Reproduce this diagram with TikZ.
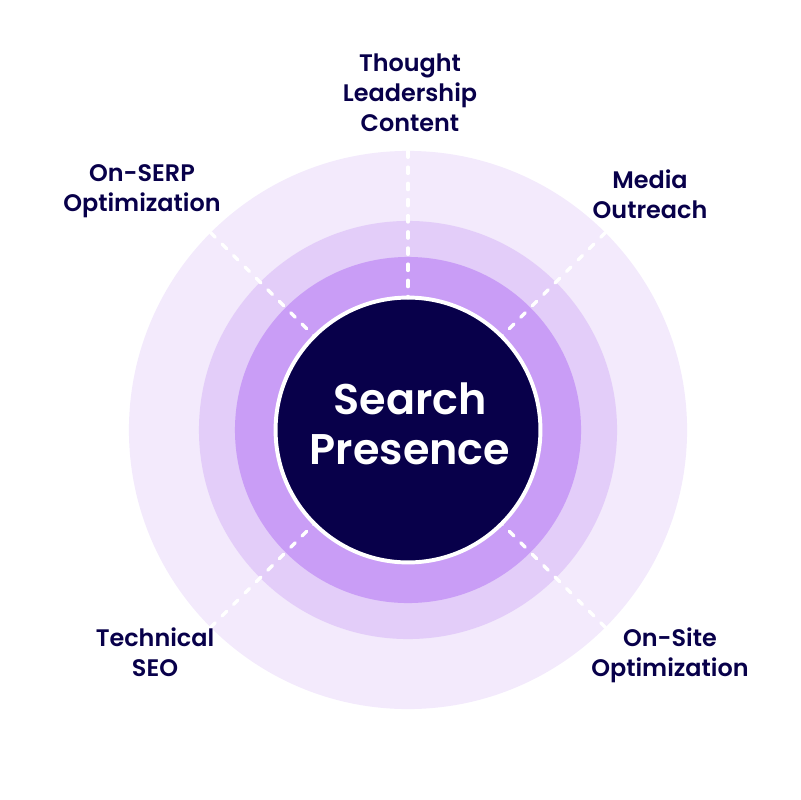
\documentclass[tikz,border=0pt]{standalone}
\usepackage{fontspec}
\setmainfont{Poppins}[BoldFont={Poppins SemiBold}]
\usetikzlibrary{positioning}
\definecolor{ringA}{HTML}{F3EAFC}
\definecolor{ringB}{HTML}{E3CDF9}
\definecolor{ringC}{HTML}{C99DF6}
\definecolor{navy}{HTML}{08004A}
\tikzset{
  ring/.style={circle,inner sep=0pt,outer sep=0pt},
  tag/.style={align=center,text=navy,font=\fontsize{17}{21.3}\selectfont\bfseries},
  spoke/.style={draw=white,line width=2.4pt,line cap=round,dash pattern=on 4.5pt off 7pt}
}
\begin{document}
\begin{tikzpicture}[x=0.025cm,y=-0.025cm]
\useasboundingbox (0,0) rectangle (800,800);
\node[ring,fill=ringA,minimum size=13.95cm] (halo) at (408,430) {};
\node[ring,fill=ringB,minimum size=10.45cm] (mid) at (408,430) {};
\node[ring,fill=ringC,minimum size=8.65cm] (inner) at (408,430) {};
\node[ring,fill=navy,draw=white,line width=2.8pt,minimum size=6.62cm] (core) at (408,430) {};
\node[align=center,text=white,font=\fontsize{30.5}{35.6}\selectfont\bfseries] (title) at (410,424) {Search\\Presence};
\foreach \a in {90,45,135,225,315} \draw[spoke] (halo.\a)--(core.\a);
\node[tag] (thought) at (410,93) {Thought\\Leadership\\Content};
\node[tag] (serp) at (142,191) {On-SERP\\Optimization};
\node[tag] (media) at (650,194) {Media\\Outreach};
\node[tag] (tech) at (155,652) {Technical\\SEO};
\node[tag] (onsite) at (670,655) {On-Site\\Optimization};
\end{tikzpicture}
\end{document}
